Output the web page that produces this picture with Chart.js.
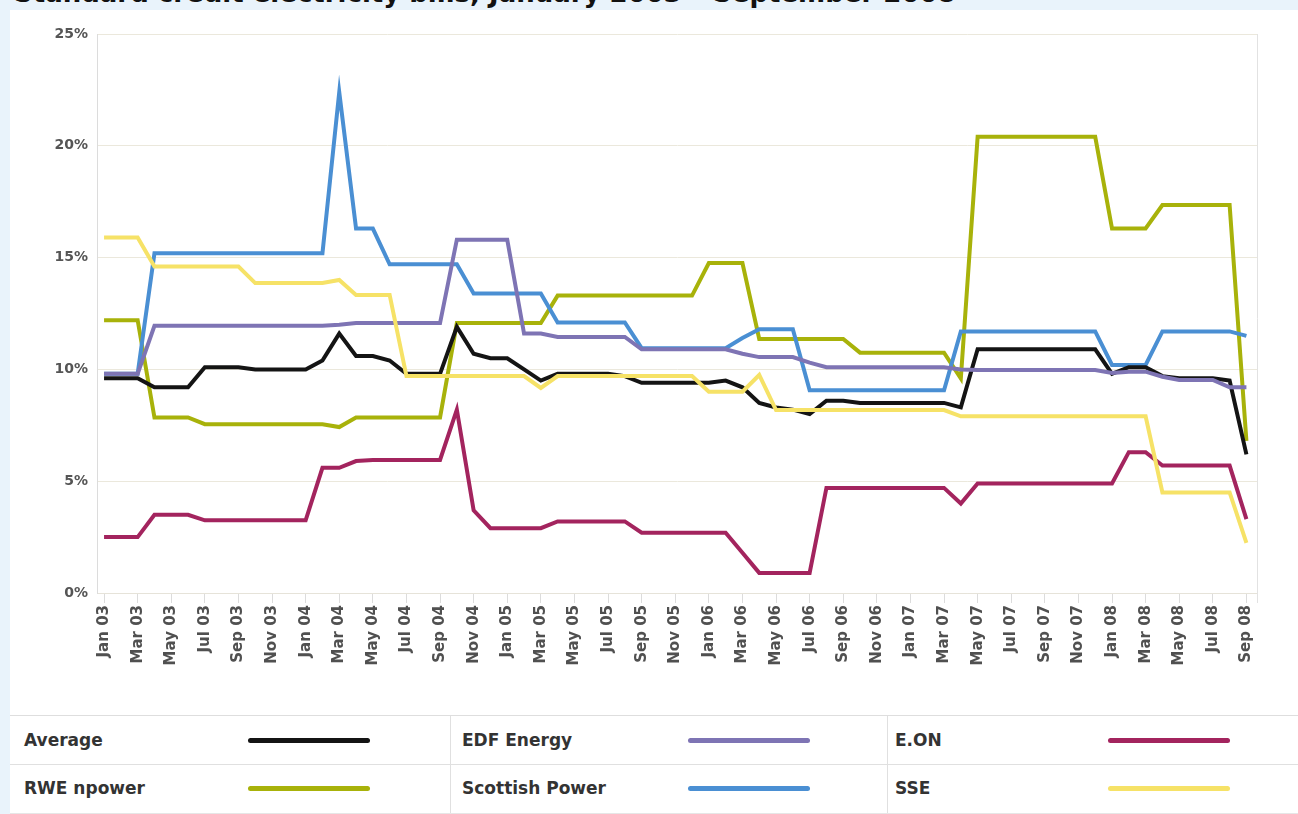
<!DOCTYPE html>
<html>
<head>
<meta charset="utf-8">
<script src="https://cdn.jsdelivr.net/npm/chart.js@4.4.1/dist/chart.umd.min.js"></script>
<style>
  body { margin: 0; width: 1298px; height: 814px; overflow: hidden; background: #e9f3fb; position: relative;
         font-family: "DejaVu Sans", Verdana, sans-serif; }
  #titulo { position: absolute; left: 14px; top: -22px; font-size: 26px; font-weight: bold; color: #111; white-space: nowrap; }
  #tarjeta { position: absolute; left: 10px; top: 10px; width: 1288px; height: 804px; background: #fff; }
  #grafica { position: absolute; left: 10px; top: 10px; }
  #leyenda { position: absolute; left: 10px; top: 715px; width: 1288px; height: 97px;
             border-top: 1px solid #dedede; border-bottom: 1px solid #e6e6e6; }
  .fila { position: absolute; left: 0; width: 1288px; height: 1px; background: #e0e0e0; }
  .col { position: absolute; top: 0; width: 1px; height: 97px; background: #e0e0e0; }
  .etiqueta { position: absolute; font-size: 17px; font-weight: bold; color: #333; line-height: 20px; }
  .muestra { position: absolute; width: 122px; height: 5px; border-radius: 3px; }
</style>
</head>
<body>
<div id="titulo">Standard credit electricity bills, January 2003 – September 2008</div>
<div id="tarjeta"></div>
<canvas id="grafica" width="1288" height="700"></canvas>
<div id="leyenda"></div>
<script>
// etiquetas del eje x (cada dos meses)
const tickLabels = ['Jan 03', 'Mar 03', 'May 03', 'Jul 03', 'Sep 03', 'Nov 03',
  'Jan 04', 'Mar 04', 'May 04', 'Jul 04', 'Sep 04', 'Nov 04',
  'Jan 05', 'Mar 05', 'May 05', 'Jul 05', 'Sep 05', 'Nov 05',
  'Jan 06', 'Mar 06', 'May 06', 'Jul 06', 'Sep 06', 'Nov 06',
  'Jan 07', 'Mar 07', 'May 07', 'Jul 07', 'Sep 07', 'Nov 07',
  'Jan 08', 'Mar 08', 'May 08', 'Jul 08', 'Sep 08'];

// valores mensuales, Jan 03 .. Sep 08 (%)
const average = [9.6, 9.6, 9.6, 9.2, 9.2, 9.2, 10.1, 10.1, 10.1, 10.0, 10.0, 10.0, 10.0,
  10.4, 11.6, 10.6, 10.6, 10.4, 9.8, 9.8, 9.8, 11.9, 10.7, 10.5, 10.5, 10.0, 9.5,
  9.8, 9.8, 9.8, 9.8, 9.7, 9.4, 9.4, 9.4, 9.4, 9.4, 9.5, 9.2, 8.5, 8.3, 8.2, 8.0, 8.6,
  8.6, 8.5, 8.5, 8.5, 8.5, 8.5, 8.5, 8.3, 10.9, 10.9, 10.9, 10.9, 10.9, 10.9, 10.9, 10.9,
  9.8, 10.1, 10.1, 9.7, 9.6, 9.6, 9.6, 9.5, 6.2];

const edfEnergy = [9.8, 9.8, 9.8, 11.95, 11.95, 11.95, 11.95, 11.95, 11.95, 11.95, 11.95, 11.95, 11.95, 11.95,
  12.0, 12.07, 12.07, 12.07, 12.07, 12.07, 12.07, 15.8, 15.8, 15.8, 15.8, 11.6, 11.6,
  11.45, 11.45, 11.45, 11.45, 11.45, 10.9, 10.9, 10.9, 10.9, 10.9, 10.9, 10.7, 10.55, 10.55, 10.55, 10.3,
  10.1, 10.1, 10.1, 10.1, 10.1, 10.1, 10.1, 10.1, 10.0, 9.97, 9.97, 9.97, 9.97, 9.97, 9.97, 9.97, 9.97,
  9.84, 9.9, 9.9, 9.67, 9.53, 9.53, 9.53, 9.2, 9.2];

const eon = [2.5, 2.5, 2.5, 3.5, 3.5, 3.5, 3.25, 3.25, 3.25, 3.25, 3.25, 3.25, 3.25,
  5.6, 5.6, 5.9, 5.95, 5.95, 5.95, 5.95, 5.95, 8.2, 3.7, 2.9, 2.9, 2.9, 2.9,
  3.2, 3.2, 3.2, 3.2, 3.2, 2.7, 2.7, 2.7, 2.7, 2.7, 2.7, 1.8, 0.9, 0.9, 0.9, 0.9,
  4.7, 4.7, 4.7, 4.7, 4.7, 4.7, 4.7, 4.7, 4.0, 4.9, 4.9, 4.9, 4.9, 4.9, 4.9, 4.9, 4.9, 4.9,
  6.3, 6.3, 5.7, 5.7, 5.7, 5.7, 5.7, 3.3];

const rweNpower = [12.2, 12.2, 12.2, 7.85, 7.85, 7.85, 7.55, 7.55, 7.55, 7.55, 7.55, 7.55, 7.55, 7.55,
  7.42, 7.85, 7.85, 7.85, 7.85, 7.85, 7.85, 12.07, 12.07, 12.07, 12.07, 12.07, 12.07,
  13.3, 13.3, 13.3, 13.3, 13.3, 13.3, 13.3, 13.3, 13.3, 14.76, 14.76, 14.76,
  11.36, 11.36, 11.36, 11.36, 11.36, 11.36, 10.75, 10.75, 10.75, 10.75, 10.75, 10.75, 9.6,
  20.4, 20.4, 20.4, 20.4, 20.4, 20.4, 20.4, 20.4, 16.3, 16.3, 16.3,
  17.35, 17.35, 17.35, 17.35, 17.35, 6.8];

const scottishPower = [9.8, 9.8, 9.8, 15.2, 15.2, 15.2, 15.2, 15.2, 15.2, 15.2, 15.2, 15.2, 15.2, 15.2,
  22.4, 16.3, 16.3, 14.7, 14.7, 14.7, 14.7, 14.7, 13.4, 13.4, 13.4, 13.4, 13.4,
  12.1, 12.1, 12.1, 12.1, 12.1, 10.95, 10.95, 10.95, 10.95, 10.95, 10.95, 11.4, 11.8, 11.8, 11.8,
  9.07, 9.07, 9.07, 9.07, 9.07, 9.07, 9.07, 9.07, 9.07,
  11.7, 11.7, 11.7, 11.7, 11.7, 11.7, 11.7, 11.7, 11.7, 10.2, 10.2, 10.2,
  11.7, 11.7, 11.7, 11.7, 11.7, 11.5];

const sse = [15.9, 15.9, 15.9, 14.6, 14.6, 14.6, 14.6, 14.6, 14.6, 13.86, 13.86, 13.86, 13.86, 13.86,
  14.0, 13.33, 13.33, 13.33, 9.7, 9.7, 9.7, 9.7, 9.7, 9.7, 9.7, 9.7, 9.17,
  9.7, 9.7, 9.7, 9.7, 9.7, 9.7, 9.7, 9.7, 9.7, 9.0, 9.0, 9.0, 9.75,
  8.18, 8.18, 8.18, 8.18, 8.18, 8.18, 8.18, 8.18, 8.18, 8.18, 8.18,
  7.9, 7.9, 7.9, 7.9, 7.9, 7.9, 7.9, 7.9, 7.9, 7.9, 7.9, 7.9,
  4.5, 4.5, 4.5, 4.5, 4.5, 2.24];

const series = [
  { label: 'Average', data: average, color: '#141414', orden: 2 },
  { label: 'EDF Energy', data: edfEnergy, color: '#7e74b4', orden: 1 },
  { label: 'E.ON', data: eon, color: '#a3245e', orden: 5 },
  { label: 'RWE npower', data: rweNpower, color: '#a8b20a', orden: 4 },
  { label: 'Scottish Power', data: scottishPower, color: '#4a8fd3', orden: 3 },
  { label: 'SSE', data: sse, color: '#f6e267', orden: 0 }
];

// línea gris del borde derecho del área de trazado
const bordeDerecho = {
  id: 'bordeDerecho',
  beforeDatasetsDraw(chart) {
    const { ctx, chartArea: a } = chart;
    ctx.save();
    ctx.strokeStyle = '#e2e2e2';
    ctx.lineWidth = 1;
    ctx.beginPath();
    ctx.moveTo(Math.round(a.right) + 0.5, a.top);
    ctx.lineTo(Math.round(a.right) + 0.5, a.bottom + 10);
    ctx.stroke();
    ctx.restore();
  }
};

const ctx = document.getElementById('grafica').getContext('2d');
new Chart(ctx, {
  type: 'line',
  data: {
    datasets: series.map(s => ({
      label: s.label,
      data: s.data.map((v, i) => ({ x: i, y: v })),
      borderColor: s.color,
      backgroundColor: s.color,
      borderWidth: 4,
      pointRadius: 0,
      tension: 0,
      order: s.orden
    }))
  },
  options: {
    responsive: false,
    animation: false,
    layout: { padding: { top: 24, right: 41, left: 0, bottom: 0 } },
    plugins: { legend: { display: false }, tooltip: { enabled: false } },
    scales: {
      x: {
        type: 'linear',
        min: -0.42,
        max: 68.63,
        afterBuildTicks: s => { s.ticks = tickLabels.map((_, k) => ({ value: k * 2 })); },
        afterFit: s => { s.height = 117; },
        ticks: {
          autoSkip: false,
          minRotation: 90,
          maxRotation: 90,
          padding: 2,
          color: '#505050',
          font: { family: '"DejaVu Sans", Verdana, sans-serif', size: 15, weight: 'bold' },
          callback: v => tickLabels[Math.round(v / 2)]
        },
        grid: { drawOnChartArea: false, drawTicks: true, tickLength: 10, tickColor: '#dcdcdc' },
        border: { color: '#e6e3d9' }
      },
      y: {
        min: 0,
        max: 25,
        afterFit: s => { s.width = 87; },
        ticks: {
          stepSize: 5,
          padding: 9,
          color: '#555',
          font: { family: '"DejaVu Sans", Verdana, sans-serif', size: 14, weight: 'bold' },
          callback: v => v + '%'
        },
        grid: { color: '#ebe8dc', drawTicks: false },
        border: { color: '#dcdcdc' }
      }
    }
  },
  plugins: [bordeDerecho]
});

// leyenda en tabla, 2 filas x 3 columnas
const leyenda = document.getElementById('leyenda');
const colTexto = [14, 452, 885];
const colMuestra = [238, 678, 1098];
const filaCentro = [24, 72];
series.forEach((s, i) => {
  const fila = Math.floor(i / 3), col = i % 3;
  const t = document.createElement('div');
  t.className = 'etiqueta';
  t.textContent = s.label;
  t.style.left = colTexto[col] + 'px';
  t.style.top = (filaCentro[fila] - 10) + 'px';
  leyenda.appendChild(t);
  const m = document.createElement('div');
  m.className = 'muestra';
  m.style.background = s.color;
  m.style.left = colMuestra[col] + 'px';
  m.style.top = (filaCentro[fila] - 2) + 'px';
  leyenda.appendChild(m);
});
const sep = document.createElement('div');
sep.className = 'fila';
sep.style.top = '48px';
leyenda.appendChild(sep);
[440, 877].forEach(x => {
  const c = document.createElement('div');
  c.className = 'col';
  c.style.left = x + 'px';
  leyenda.appendChild(c);
});
</script>
</body>
</html>
